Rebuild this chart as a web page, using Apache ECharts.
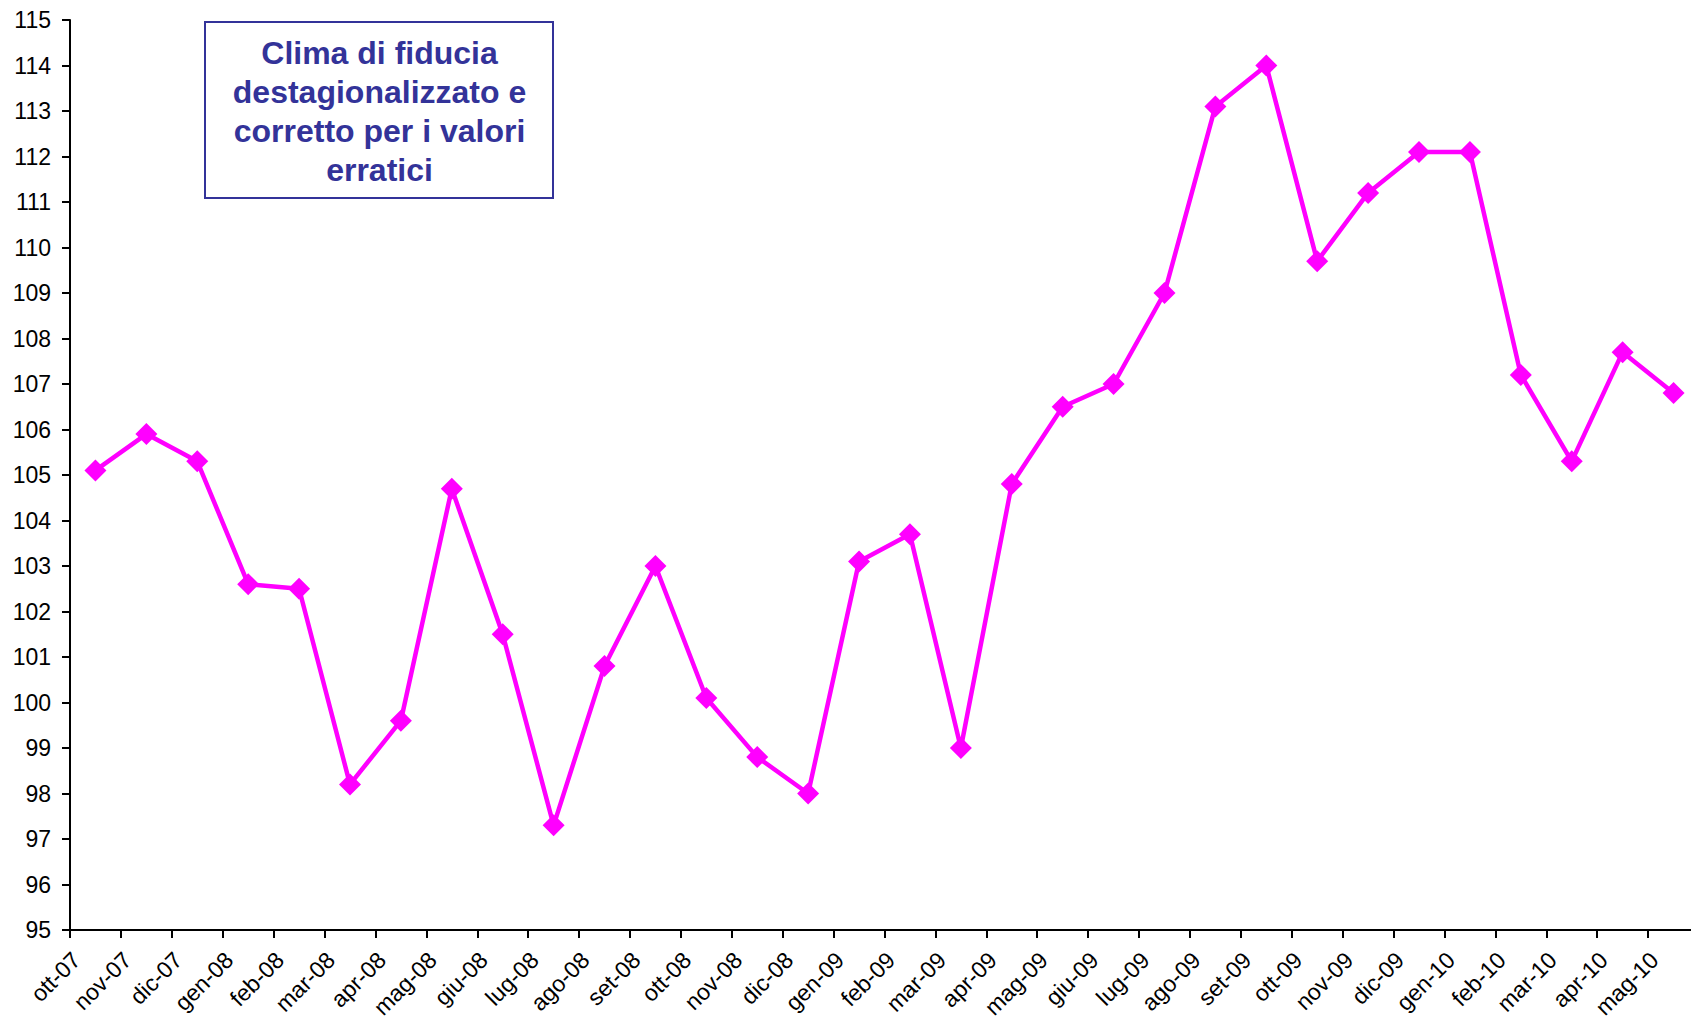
<!DOCTYPE html>
<html>
<head>
<meta charset="utf-8">
<script src="https://cdn.jsdelivr.net/npm/echarts@6/dist/echarts.min.js"></script>
<style>
html,body{margin:0;padding:0;background:#fff;}
#chart{width:1691px;height:1020px;}
</style>
</head>
<body>
<div id="chart"></div>
<script>
const categories = ['ott-07','nov-07','dic-07','gen-08','feb-08','mar-08','apr-08','mag-08','giu-08','lug-08','ago-08','set-08','ott-08','nov-08','dic-08','gen-09','feb-09','mar-09','apr-09','mag-09','giu-09','lug-09','ago-09','set-09','ott-09','nov-09','dic-09','gen-10','feb-10','mar-10','apr-10','mag-10'];
const values = [105.1,105.9,105.3,102.6,102.5,98.2,99.6,104.7,101.5,97.3,100.8,103.0,100.1,98.8,98.0,103.1,103.7,99.0,104.8,106.5,107.0,109.0,113.1,114.0,109.7,111.2,112.1,112.1,107.2,105.3,107.7,106.8];
const titleText = 'Clima di fiducia\ndestagionalizzato e\ncorretto per i valori\nerratici';

const chart = echarts.init(document.getElementById('chart'), null, {renderer:'svg'});
const font = '"Liberation Sans", Arial, sans-serif';
chart.setOption({
  animation:false,
  backgroundColor:'#fff',
  grid:{left:70, top:20, bottom:90, right:-8, containLabel:false, outerBoundsMode:'none'},
  xAxis:{
    type:'category',
    data:categories,
    boundaryGap:true,
    axisLine:{lineStyle:{color:'#000', width:2}},
    axisTick:{show:true, length:8, lineStyle:{color:'#000', width:2}},
    axisLabel:{rotate:45, margin:7, padding:[0,27,0,0], color:'#000', fontSize:23, fontFamily:font, interval:0},
    splitLine:{show:false}
  },
  yAxis:{
    type:'value', min:95, max:115, interval:1,
    axisLine:{show:true, lineStyle:{color:'#000', width:2}},
    axisTick:{show:true, length:8, lineStyle:{color:'#000', width:2}},
    axisLabel:{color:'#000', fontSize:23, fontFamily:font, margin:19},
    splitLine:{show:false}
  },
  series:[{
    type:'line',
    data:values,
    symbol:'diamond',
    symbolSize:22,
    lineStyle:{color:'#FF00FF', width:4.5},
    itemStyle:{color:'#FF00FF'}
  }],
  graphic:[
    {type:'rect', shape:{x:205, y:22, width:348, height:176}, style:{fill:'#fff', stroke:'#333399', lineWidth:2}, z:10},
    {type:'text', x:379.5, y:111.5, style:{text:titleText, align:'center', verticalAlign:'middle', fill:'#333399', font:'bold 32px "Liberation Sans", Arial, sans-serif', lineHeight:39}, z:11}
  ]
});
</script>
</body>
</html>
